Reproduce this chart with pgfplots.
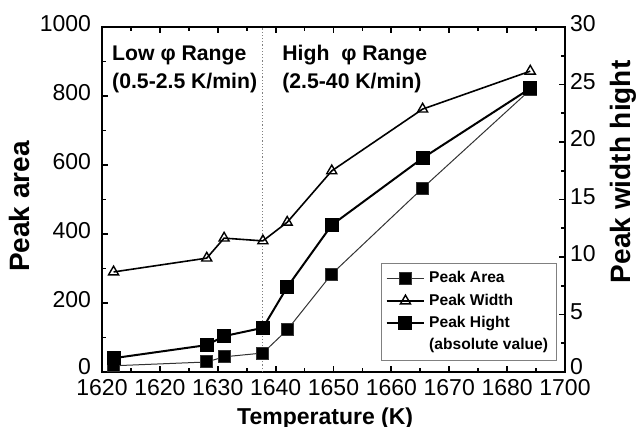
\documentclass[border=0pt]{standalone}
\usepackage{fontspec}
\setmainfont{Liberation Sans}
\usepackage{pgfplots}
\pgfplotsset{compat=1.18}

% peak hight (upper squares), peak area (lower squares), peak width (triangles), in left-axis units
\pgfplotstableread{
T       hight  area  width
1612.0  40     18    290
1628.1  78     29    330
1631.1  104    44    388
1637.8  128    55    380
1642.0  246    122   434
1649.7  426    284   583
1665.4  620    533   762
1684.0  822    818   872
}\peaks

\begin{document}
\begin{tikzpicture}
\path[use as bounding box] (-51pt,-27.5pt) rectangle (268pt,186pt);
\begin{axis}[
  at={(0,0)}, anchor=south west,
  scale only axis, width=231.5pt, height=172.5pt,
  xmin=1610, xmax=1690, ymin=0, ymax=1000,
  xtick={1610,1620,...,1690},
  xticklabels={1620,1620,1630,1640,1650,1660,1670,1680,1700},
  minor x tick num=1,
  ytick={0,200,...,1000}, minor y tick num=1,
  yticklabels={\raisebox{2.5pt}{0},200,400,600,800,1000},
  ytick pos=left,
  tick align=inside,
  major tick length=3pt, minor tick length=1.8pt,
  every tick/.style={line width=0.9pt, black},
  axis line style={line width=1.2pt},
  /pgf/number format/assume math mode=true,
  /pgf/number format/1000 sep={},
  tick label style={font=\fontsize{11.5}{13}\selectfont},
  yticklabel style={xshift=-2pt, yshift=1.5pt},
  xticklabel style={yshift=-2.5pt, inner sep=1pt},
  xlabel={\textbf{Temperature (K)}},
  xlabel style={font=\fontsize{11.5}{13}\selectfont, at={(axis description cs:0.482,-0.134)}, anchor=center, inner sep=0pt},
  ylabel={\textbf{Peak area}},
  ylabel style={font=\fontsize{14}{16}\selectfont, at={(axis description cs:-0.178,0.48)}, anchor=center},
  legend style={at={(0.603,0.316)}, anchor=north west, draw=gray, line width=0.5pt,
    font=\fontsize{7.8}{9}\selectfont\bfseries, row sep=0pt, inner sep=2pt,
    cells={anchor=west}},
  legend cell align=left,
  legend image code/.code={\draw[mark repeat=2,mark phase=2] plot coordinates {(0cm,0cm) (0.33cm,0cm) (0.66cm,0cm)};},
]
\draw[densely dotted, gray, line width=0.6pt] (axis cs:1637.8,0) -- (axis cs:1637.8,1000);

\addplot[black!80, line width=0.5pt, mark=square*, mark size=3pt, mark options={fill=black, solid}] table[x=T, y=area] {\peaks};
\addlegendentry{Peak Area}
\addplot[black, line width=0.8pt, mark=triangle, mark size=2.9pt, mark options={fill=white, solid, line width=0.7pt}] table[x=T, y=width] {\peaks};
\addlegendentry{Peak Width}
\addplot[black, line width=1pt, mark=square*, mark size=3pt, mark options={fill=black, solid}] table[x=T, y=hight] {\peaks};
\addlegendentry{Peak Hight}
\addlegendimage{empty legend}
\addlegendentry{(absolute value)}

\node[anchor=base west, inner sep=0, font=\fontsize{10.6}{12}\selectfont\bfseries] at (axis cs:1611.7,904) {Low φ Range};
\node[anchor=base west, inner sep=0, font=\fontsize{10.6}{12}\selectfont\bfseries] at (axis cs:1611.7,823) {(0.5-2.5 K/min)};
\node[anchor=base west, inner sep=0, font=\fontsize{10.6}{12}\selectfont\bfseries] at (axis cs:1641.1,904) {High\ \ φ Range};
\node[anchor=base west, inner sep=0, font=\fontsize{10.6}{12}\selectfont\bfseries] at (axis cs:1641.1,823) {(2.5-40 K/min)};
\end{axis}

\begin{axis}[
  at={(0,0)}, anchor=south west,
  scale only axis, width=231.5pt, height=172.5pt,
  xmin=1610, xmax=1690, ymin=0, ymax=30,
  hide x axis,
  axis y line*=right,
  ytick={0,5,...,30}, minor y tick num=1,
  yticklabels={\raisebox{2.5pt}{0},5,10,15,20,25,30},
  tick align=inside,
  major tick length=3pt, minor tick length=1.8pt,
  every tick/.style={line width=0.9pt, black},
  axis line style={line width=1.2pt},
  /pgf/number format/assume math mode=true,
  tick label style={font=\fontsize{11.5}{13}\selectfont},
  yticklabel style={xshift=-1pt, yshift=1.5pt},
  ylabel={\textbf{Peak width hight}},
  ylabel style={font=\fontsize{14}{16}\selectfont, at={(axis description cs:1.127,0.58)}, anchor=center, rotate=0},
]
\end{axis}
\end{tikzpicture}
\end{document}
